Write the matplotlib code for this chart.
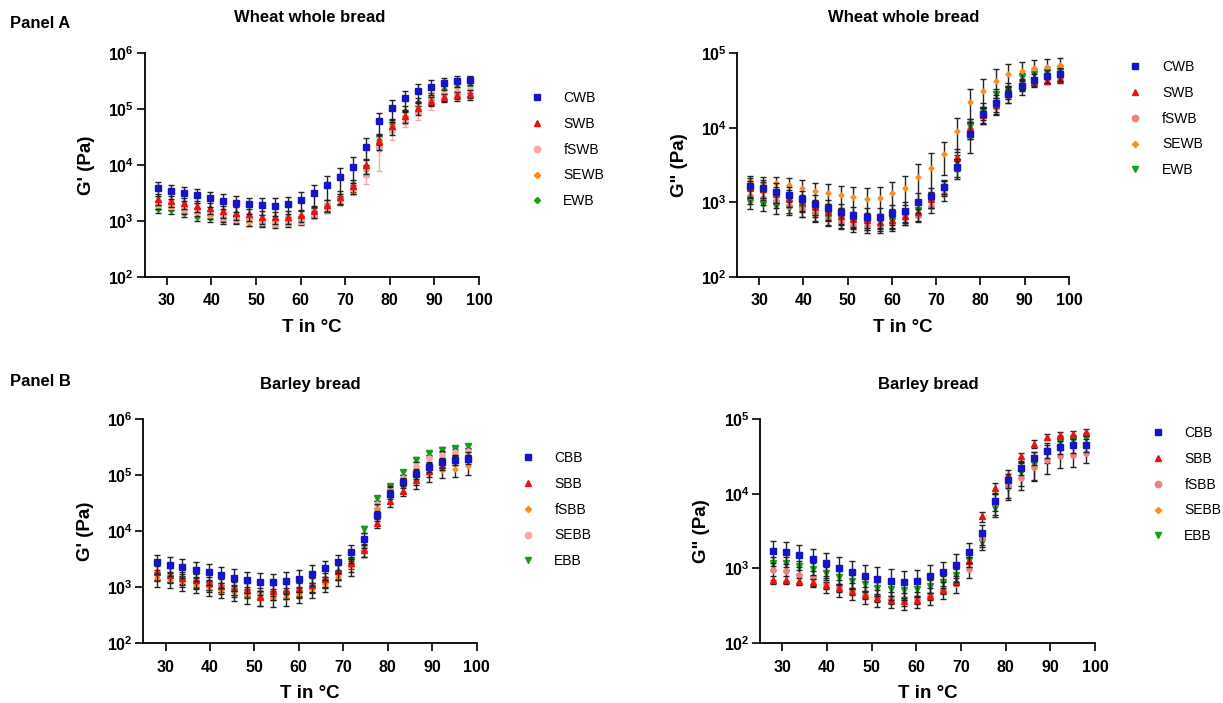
import numpy as np
import matplotlib
matplotlib.use('Agg')
import matplotlib.pyplot as plt
from matplotlib.ticker import FuncFormatter, NullLocator, FixedLocator

plt.rcParams['font.family'] = ['Liberation Sans', 'DejaVu Sans']
plt.rcParams['mathtext.fontset'] = 'custom'
plt.rcParams['mathtext.rm'] = 'Liberation Sans'
plt.rcParams['mathtext.bf'] = 'Liberation Sans:bold'

# temperature steps (°C)
temps = [28.0, 30.9, 33.8, 36.8, 39.7, 42.6, 45.5, 48.4, 51.3, 54.3, 57.2, 60.1, 63.0,
         65.9, 68.8, 71.8, 74.7, 77.6, 80.5, 83.4, 86.3, 89.3, 92.2, 95.1, 98.0]

# Panel A, G' wheat whole bread (Pa)
g1_cwb = [3820, 3470, 3200, 2870, 2530, 2300, 2120, 1980, 1900, 1870, 2000, 2400, 3100,
          4300, 6000, 9300, 21300, 61000, 103000, 156000, 211000, 253000, 290000, 315000, 333000]
g1_swb = [2500, 2250, 2060, 1850, 1680, 1480, 1400, 1330, 1190, 1150, 1180, 1250, 1500,
          1900, 2700, 4200, 9800, 27000, 49000, 74000, 105000, 140000, 165000, 180000, 190000]
g1_fswb = [2200, 2000, 1800, 1650, 1450, 1300, 1200, 1150, 1050, 1000, 1050, 1100, 1350,
           1750, 2500, 3900, 6500, 19500, 40000, 60000, 90000, 150000, 185000, 205000, 220000]
g1_sewb = [1950, 1850, 1560, 1460, 1270, 1140, 1040, 940, 900, 880, 900, 1000, 1300,
           1650, 2300, 3500, 8000, 26000, 50000, 75000, 100000, 140000, 160000, 165000, 170000]
g1_ewb = [1610, 1560, 1360, 1190, 1110, 1040, 1070, 970, 940, 950, 1000, 1050, 1450,
          1800, 2400, 3800, 8500, 28000, 55000, 93000, 135000, 170000, 226000, 246000, 255000]
# relative SD
e1_cwb = [0.28, 0.28, 0.28, 0.28, 0.3, 0.3, 0.32, 0.32, 0.33, 0.35, 0.35, 0.38, 0.42,
          0.45, 0.5, 0.48, 0.42, 0.42, 0.42, 0.38, 0.36, 0.3, 0.25, 0.22, 0.2]
e1_swb = [0.22, 0.22, 0.22, 0.22, 0.22, 0.25, 0.25, 0.25, 0.25, 0.25, 0.25, 0.25, 0.25,
          0.25, 0.25, 0.28, 0.3, 0.3, 0.3, 0.25, 0.25, 0.2, 0.15, 0.15, 0.15]
e1_fswb = [0.2, 0.2, 0.2, 0.2, 0.2, 0.2, 0.2, 0.2, 0.2, 0.2, 0.2, 0.2, 0.2,
           0.2, 0.2, 0.25, 0.3, 0.6, 0.3, 0.2, 0.3, 0.35, 0.2, 0.15, 0.15]
e1_sewb = [0.15, 0.15, 0.15, 0.15, 0.15, 0.15, 0.15, 0.15, 0.15, 0.15, 0.15, 0.15, 0.15,
           0.15, 0.15, 0.15, 0.2, 0.2, 0.2, 0.2, 0.15, 0.15, 0.15, 0.15, 0.15]
e1_ewb = [0.15, 0.15, 0.15, 0.15, 0.15, 0.15, 0.15, 0.15, 0.15, 0.15, 0.15, 0.15, 0.15,
          0.15, 0.15, 0.15, 0.2, 0.2, 0.2, 0.2, 0.15, 0.15, 0.15, 0.15, 0.15]

# Panel A, G'' wheat whole bread (Pa)
g2_cwb = [1650, 1540, 1390, 1250, 1090, 950, 830, 730, 670, 640, 640, 710, 770,
          1020, 1210, 1620, 2940, 8240, 15300, 21700, 28400, 36400, 43800, 49600, 52800]
g2_swb = [1550, 1500, 1300, 1150, 1000, 850, 750, 650, 600, 570, 550, 580, 650,
          750, 1100, 1600, 4000, 10000, 15000, 20000, 30000, 38000, 41000, 43000, 45000]
g2_fswb = [1200, 1150, 1050, 900, 800, 700, 600, 550, 500, 480, 490, 520, 620,
           680, 900, 1300, 2900, 9500, 15000, 19000, 27000, 37000, 42000, 45000, 47000]
g2_sewb = [1900, 1830, 1800, 1700, 1570, 1430, 1340, 1250, 1160, 1110, 1150, 1340, 1570,
           2160, 2850, 4400, 9050, 22400, 31500, 42900, 52700, 58500, 62900, 66200, 69000]
g2_ewb = [1000, 950, 880, 830, 800, 680, 620, 560, 540, 530, 550, 560, 650,
          780, 1050, 1600, 3500, 10500, 17000, 28000, 33000, 47600, 52800, 56700, 58500]
e2_cwb = [0.3, 0.3, 0.3, 0.3, 0.3, 0.3, 0.3, 0.3, 0.3, 0.3, 0.3, 0.3, 0.3,
          0.3, 0.3, 0.2, 0.3, 0.45, 0.25, 0.25, 0.25, 0.25, 0.2, 0.2, 0.2]
e2_swb = [0.25, 0.25, 0.25, 0.25, 0.25, 0.25, 0.25, 0.25, 0.25, 0.25, 0.25, 0.25, 0.25,
          0.25, 0.25, 0.25, 0.3, 0.3, 0.25, 0.25, 0.2, 0.15, 0.1, 0.1, 0.1]
e2_fswb = [0.2, 0.2, 0.2, 0.2, 0.2, 0.2, 0.2, 0.2, 0.2, 0.2, 0.2, 0.2, 0.2,
           0.2, 0.2, 0.2, 0.25, 0.25, 0.25, 0.2, 0.2, 0.15, 0.1, 0.1, 0.1]
e2_sewb = [0.18, 0.2, 0.22, 0.25, 0.27, 0.28, 0.3, 0.34, 0.38, 0.41, 0.41, 0.4, 0.42,
           0.5, 0.6, 0.48, 0.48, 0.46, 0.42, 0.42, 0.37, 0.32, 0.29, 0.25, 0.24]
e2_ewb = [0.2, 0.2, 0.2, 0.2, 0.2, 0.2, 0.2, 0.2, 0.2, 0.2, 0.2, 0.2, 0.2,
          0.2, 0.2, 0.2, 0.25, 0.25, 0.25, 0.2, 0.2, 0.15, 0.15, 0.15, 0.15]

# Panel B, G' barley bread (Pa)
g3_cbb = [2760, 2500, 2280, 2040, 1830, 1620, 1450, 1320, 1230, 1210, 1300, 1410, 1730,
          2150, 2760, 4160, 7190, 19000, 45800, 74000, 106000, 139000, 168000, 188000, 193000]
g3_sbb = [1830, 1660, 1450, 1320, 1180, 1060, 960, 900, 650, 840, 870, 920, 1100,
          1390, 1900, 2690, 4520, 13900, 33900, 52500, 82600, 116000, 153000, 188000, 215000]
g3_fsbb = [1450, 1350, 1210, 1100, 990, 900, 800, 710, 650, 640, 650, 750, 920,
           1150, 1510, 2280, 4640, 25000, 51000, 62800, 80400, 106000, 124000, 130000, 143000]
g3_sebb = [1700, 1550, 1400, 1250, 1100, 1000, 900, 850, 800, 780, 800, 850, 1000,
           1250, 1700, 2600, 5500, 30000, 55000, 88000, 147000, 200000, 231000, 254000, 265000]
g3_ebb = [1540, 1450, 1300, 1150, 1050, 950, 850, 780, 720, 700, 720, 780, 950,
          1200, 1650, 2900, 10900, 38800, 62800, 112000, 188000, 247000, 283000, 303000, 325000]
e3_cbb = [0.37, 0.37, 0.37, 0.38, 0.4, 0.4, 0.42, 0.42, 0.42, 0.42, 0.42, 0.42, 0.4,
          0.38, 0.35, 0.35, 0.3, 0.2, 0.2, 0.2, 0.2, 0.2, 0.2, 0.2, 0.2]
e3_sbb = [0.3, 0.3, 0.3, 0.3, 0.3, 0.3, 0.3, 0.3, 0.3, 0.3, 0.3, 0.3, 0.3,
          0.3, 0.3, 0.3, 0.25, 0.2, 0.2, 0.2, 0.2, 0.2, 0.2, 0.2, 0.2]
e3_fsbb = [0.3, 0.3, 0.3, 0.3, 0.3, 0.3, 0.3, 0.3, 0.3, 0.3, 0.3, 0.3, 0.3,
           0.3, 0.3, 0.3, 0.25, 0.2, 0.2, 0.25, 0.3, 0.3, 0.28, 0.3, 0.3]
e3_sebb = [0.2, 0.2, 0.2, 0.2, 0.2, 0.2, 0.2, 0.2, 0.2, 0.2, 0.2, 0.2, 0.2,
           0.2, 0.2, 0.2, 0.2, 0.15, 0.15, 0.15, 0.15, 0.15, 0.15, 0.15, 0.15]
e3_ebb = [0.15, 0.15, 0.15, 0.15, 0.15, 0.15, 0.15, 0.15, 0.15, 0.15, 0.15, 0.15, 0.15,
          0.15, 0.15, 0.15, 0.15, 0.1, 0.1, 0.1, 0.1, 0.1, 0.1, 0.1, 0.1]

# Panel B, G'' barley bread (Pa)
g4_cbb = [1690, 1640, 1490, 1330, 1180, 1010, 893, 798, 728, 684, 656, 684, 781,
          893, 1100, 1660, 2970, 7880, 15100, 22100, 30100, 37700, 42200, 44400, 45300]
g4_sbb = [705, 705, 670, 650, 592, 545, 492, 444, 401, 380, 361, 380, 422,
          518, 670, 1240, 4970, 11900, 17900, 31600, 46800, 57400, 61700, 63600, 66200]
g4_fsbb = [940, 912, 823, 743, 624, 557, 507, 444, 409, 388, 373, 388, 431,
           518, 624, 980, 2550, 7500, 12500, 16200, 22800, 27900, 31600, 32600, 35100]
g4_sebb = []
g4_ebb = [1180, 1180, 1060, 980, 867, 766, 684, 617, 551, 529, 518, 529, 586,
          650, 823, 1310, 2230, 6430, 11900, 19300, 25200, 36900, 48700, 52800, 55700]
e4_cbb = [0.36, 0.36, 0.36, 0.38, 0.38, 0.4, 0.4, 0.4, 0.42, 0.45, 0.42, 0.4, 0.4,
          0.38, 0.4, 0.3, 0.3, 0.25, 0.2, 0.2, 0.2, 0.2, 0.2, 0.2, 0.2]
e4_sbb = [0.12, 0.12, 0.12, 0.12, 0.12, 0.12, 0.12, 0.12, 0.12, 0.12, 0.12, 0.12, 0.12,
          0.12, 0.12, 0.15, 0.15, 0.15, 0.15, 0.12, 0.12, 0.1, 0.1, 0.1, 0.1]
e4_fsbb = [0.25, 0.25, 0.25, 0.25, 0.25, 0.25, 0.25, 0.25, 0.25, 0.25, 0.25, 0.25, 0.25,
           0.25, 0.25, 0.25, 0.25, 0.3, 0.3, 0.3, 0.34, 0.34, 0.3, 0.3, 0.26]
e4_sebb = []
e4_ebb = [0.2, 0.2, 0.2, 0.2, 0.2, 0.2, 0.2, 0.2, 0.2, 0.2, 0.2, 0.2, 0.2,
          0.2, 0.2, 0.2, 0.2, 0.25, 0.3, 0.35, 0.42, 0.3, 0.2, 0.15, 0.15]

blue = '#1414c8'
red = '#e81414'
pink = '#f7a8a8'
salmon = '#f08080'
orange = '#ff8c1a'
green = '#14a014'

W, H = 1223, 703
fig = plt.figure(figsize=(W / 100, H / 100), dpi=100)


def fx(px):
    return px / W


def fy(py):
    return 1 - py / H


def decade(v, _):
    return r'$\mathbf{10^{%d}}$' % int(round(np.log10(v)))


def panel(rect, ymax, ylabel, series, leg_xy):
    left, top, right, bottom = rect
    ax = fig.add_axes([fx(left), fy(bottom), fx(right - left), (bottom - top) / H])
    handles = []
    # draw last series first so the control sits on top
    for i, (name, vals, err, color, mk, ms, ecol) in enumerate(reversed(series)):
        if len(vals):
            v = np.array(vals, dtype=float)
            c = ax.errorbar(temps, v, yerr=np.array(err) * v, fmt=mk, color=color,
                            ms=ms, mec=color, ecolor=ecol, elinewidth=1.0,
                            capsize=2, capthick=1.0, zorder=3 + i)
            line = c[0]
        else:
            line = ax.plot([], [], mk, color=color, ms=ms)[0]
        line.set_label(name)
        handles.insert(0, line)
    ax.set_yscale('log')
    ax.set_xlim(25, 100)
    ax.set_ylim(100, ymax)
    ax.xaxis.set_major_locator(FixedLocator([30, 40, 50, 60, 70, 80, 90, 100]))
    ax.yaxis.set_minor_locator(NullLocator())
    ax.yaxis.set_major_formatter(FuncFormatter(decade))
    for s in ['top', 'right']:
        ax.spines[s].set_visible(False)
    for s in ['left', 'bottom']:
        ax.spines[s].set_linewidth(1.3)
    ax.tick_params(axis='both', which='major', length=6, width=1.2, labelsize=11.5)
    ax.tick_params(axis='x', pad=6)
    ax.tick_params(axis='y', pad=1.5)
    for lab in ax.get_xticklabels():
        lab.set_fontweight('bold')
    fig.text(fx((left + right) / 2), fy(bottom + 51), 'T in °C', ha='center', va='center',
             fontsize=13.5, fontweight='bold')
    fig.text(fx(left - 58), fy((top + bottom) / 2), ylabel, ha='center', va='center',
             rotation=90, fontsize=13.5, fontweight='bold')
    ax.legend(handles=handles, loc='upper left',
              bbox_to_anchor=(fx(leg_xy[0]), fy(leg_xy[1])),
              bbox_transform=fig.transFigure, frameon=False, fontsize=10,
              handlelength=1.0, handletextpad=1.4, labelspacing=0.85,
              borderpad=0, borderaxespad=0, markerscale=1.2)
    return ax


panel((144.5, 53.3, 479, 276.7), 1e6, "G' (Pa)",
      [('CWB', g1_cwb, e1_cwb, blue, 's', 3.8, '#222222'),
       ('SWB', g1_swb, e1_swb, red, '^', 3.8, '#222222'),
       ('fSWB', g1_fswb, e1_fswb, pink, 'o', 3.8, pink),
       ('SEWB', g1_sewb, e1_sewb, orange, 'D', 2.6, '#222222'),
       ('EWB', g1_ewb, e1_ewb, green, 'D', 2.6, '#222222')],
      (530, 91))

panel((737, 53.3, 1069, 276.7), 1e5, 'G" (Pa)',
      [('CWB', g2_cwb, e2_cwb, blue, 's', 3.8, '#222222'),
       ('SWB', g2_swb, e2_swb, red, '^', 3.8, '#222222'),
       ('fSWB', g2_fswb, e2_fswb, salmon, 'o', 3.8, '#222222'),
       ('SEWB', g2_sewb, e2_sewb, orange, 'D', 2.6, '#222222'),
       ('EWB', g2_ewb, e2_ewb, green, 'v', 3.8, '#222222')],
      (1128.5, 60))

panel((143.3, 419, 476.5, 643), 1e6, "G' (Pa)",
      [('CBB', g3_cbb, e3_cbb, blue, 's', 3.8, '#222222'),
       ('SBB', g3_sbb, e3_sbb, red, '^', 3.8, '#222222'),
       ('fSBB', g3_fsbb, e3_fsbb, orange, 'D', 2.6, '#222222'),
       ('SEBB', g3_sebb, e3_sebb, pink, 'o', 3.8, '#222222'),
       ('EBB', g3_ebb, e3_ebb, green, 'v', 3.8, '#222222')],
      (521, 451))

panel((760, 419, 1095, 643), 1e5, 'G" (Pa)',
      [('CBB', g4_cbb, e4_cbb, blue, 's', 3.8, '#222222'),
       ('SBB', g4_sbb, e4_sbb, red, '^', 3.8, '#222222'),
       ('fSBB', g4_fsbb, e4_fsbb, salmon, 'o', 3.8, '#222222'),
       ('SEBB', g4_sebb, e4_sebb, orange, 'D', 2.6, '#222222'),
       ('EBB', g4_ebb, e4_ebb, green, 'v', 3.8, '#222222')],
      (1151, 426))

# titles and panel tags
fig.text(fx(310), fy(18), 'Wheat whole bread', ha='center', va='center', fontsize=12, fontweight='bold')
fig.text(fx(904), fy(18), 'Wheat whole bread', ha='center', va='center', fontsize=12, fontweight='bold')
fig.text(fx(310), fy(385), 'Barley bread', ha='center', va='center', fontsize=12, fontweight='bold')
fig.text(fx(928), fy(385), 'Barley bread', ha='center', va='center', fontsize=12, fontweight='bold')
fig.text(fx(10), fy(23), 'Panel A', ha='left', va='center', fontsize=12, fontweight='bold')
fig.text(fx(10), fy(381), 'Panel B', ha='left', va='center', fontsize=12, fontweight='bold')

fig.savefig('out.png', dpi=100)
